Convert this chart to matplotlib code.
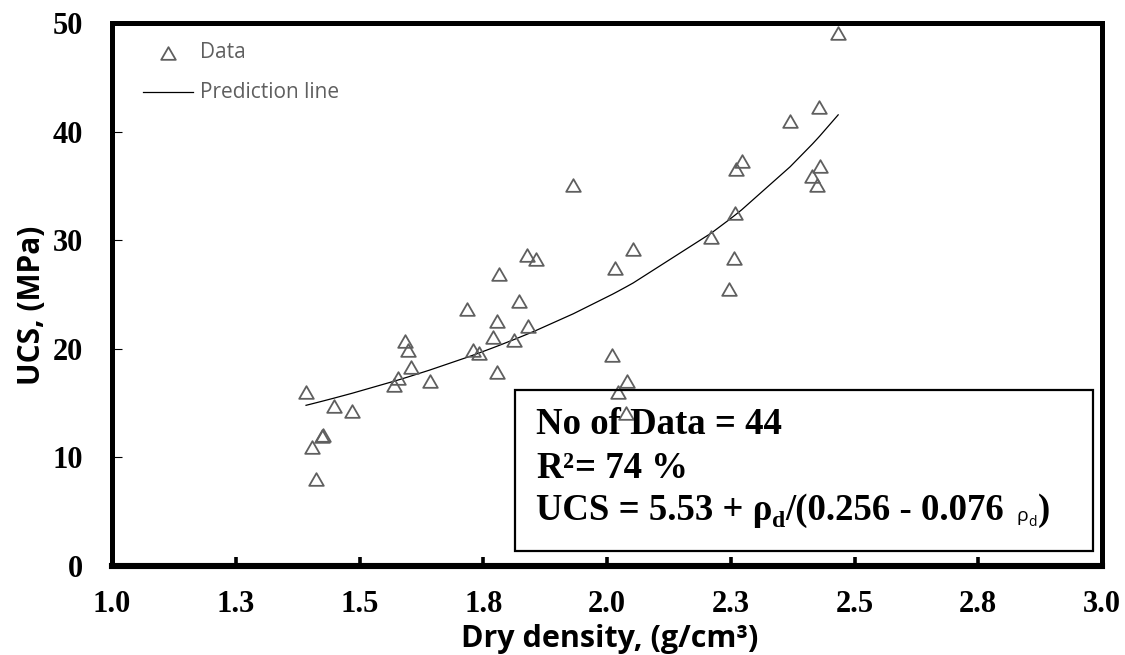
import numpy as np
import matplotlib
matplotlib.use("Agg")
import matplotlib.pyplot as plt
from matplotlib.path import Path

# Measured dry density (g/cm3) and unconfined compressive strength (MPa)
density = [1.392, 1.404, 1.412, 1.424, 1.426, 1.448, 1.485, 1.591, 1.597, 1.604,
           1.570, 1.578, 1.642, 1.718, 1.730, 1.742, 1.769, 1.778, 1.782, 1.778,
           1.813, 1.823, 1.841, 1.838, 1.857, 2.017, 2.053, 2.011, 2.040, 2.022,
           1.932, 2.038, 2.272, 2.261, 2.259, 2.211, 2.257, 2.246, 2.430, 2.415,
           2.425, 2.467, 2.429, 2.370]
ucs = [16.05, 10.98, 8.03, 12.0, 12.1, 14.7, 14.3, 20.76, 19.9, 18.36,
       16.7, 17.3, 17.0, 23.7, 19.86, 19.6, 21.06, 22.6, 26.85, 17.87,
       20.85, 24.4, 22.1, 28.6, 28.3, 27.46, 29.2, 19.4, 17.0, 16.0,
       35.1, 14.1, 37.3, 36.6, 32.5, 30.3, 28.4, 25.5, 36.8, 35.9,
       35.1, 49.1, 42.3, 41.0]

# Fitted model: UCS = a + rho/(b - c*rho)
coef_a, coef_b, coef_c = 5.53, 0.256, 0.076
n_data = 44
r2_pct = 74

x_ticks = [1.0, 1.25, 1.5, 1.75, 2.0, 2.25, 2.5, 2.75, 3.0]
x_ticklabels = ["1.0", "1.3", "1.5", "1.8", "2.0", "2.3", "2.5", "2.8", "3.0"]
y_ticks = [0, 10, 20, 30, 40, 50]

W, H = 1125, 655
fig = plt.figure(figsize=(W / 100, H / 100), dpi=100)
ax = fig.add_axes([112 / W, 1 - 566 / H, 990 / W, 543 / H])
ax.set_xlim(1.0, 3.0)
ax.set_ylim(0, 50)

grey = "#5f5f5f"
serif_b = dict(family="Liberation Serif", weight="bold")
sans_b = dict(family="Open Sans", weight="bold")

# Equilateral open triangle marker
tri = Path([(-1, -0.866), (1, -0.866), (0, 0.866), (-1, -0.866)],
           [Path.MOVETO, Path.LINETO, Path.LINETO, Path.CLOSEPOLY])

ax.plot(density, ucs, linestyle="none", marker=tri, markersize=10.5,
        markerfacecolor="none", markeredgecolor=grey, markeredgewidth=1.3,
        zorder=3)

# Prediction line evaluated at the measured densities
rho = np.sort(np.asarray(density))
pred = coef_a + rho / (coef_b - coef_c * rho)
ax.plot(rho, pred, color="black", linewidth=0.9, zorder=2)

# Spines and ticks
for side in ["left", "right", "top", "bottom"]:
    ax.spines[side].set_linewidth(3.6)
    ax.spines[side].set_capstyle("projecting")
ax.spines["bottom"].set_linewidth(4.4)

ax.set_xticks(x_ticks)
ax.set_xticklabels(x_ticklabels)
ax.set_yticks(y_ticks)
for lab in ax.get_xticklabels() + ax.get_yticklabels():
    lab.set_fontfamily("Liberation Serif")
    lab.set_fontweight("bold")
    lab.set_fontsize(22)
ax.tick_params(axis="x", direction="in", length=6.5, width=2.6, pad=17)
ax.tick_params(axis="y", direction="in", length=7, width=0.8, pad=21)
for t in ax.xaxis.get_major_ticks():
    t.tick1line.set_visible(t.get_loc() not in (1.0, 3.0))
for t in ax.yaxis.get_major_ticks():
    t.tick1line.set_visible(t.get_loc() not in (0, 50))

ax.set_xlabel("Dry density, (g/cm\u00b3)", fontsize=22, **sans_b)
ax.set_ylabel("UCS, (MPa)", fontsize=21.5, **sans_b)
ax.xaxis.set_label_coords(0.503, -0.106)
ax.yaxis.set_label_coords(-0.066, 0.48)

# Legend drawn by hand at the top-left corner
def px2data(px, py):
    return (1.0 + (px - 112) / 495.0, (566 - py) / 10.86)

mx, my = px2data(168, 53)
ax.plot([mx], [my], linestyle="none", marker=tri, markersize=10.5,
        markerfacecolor="none", markeredgecolor=grey, markeredgewidth=1.3,
        clip_on=False)
lx0, ly = px2data(143, 92)
lx1, _ = px2data(193, 92)
ax.plot([lx0, lx1], [ly, ly], color="black", linewidth=0.9)
tx, ty = px2data(200, 53)
ax.text(tx, ty, "Data", color=grey, fontsize=15, family="Open Sans",
        va="center", ha="left")
tx, ty = px2data(200, 92)
ax.text(tx, ty, "Prediction line", color=grey, fontsize=15, family="Open Sans",
        va="center", ha="left")

# Statistics box
box = plt.Rectangle((515 / W, 1 - 551 / H), (1093 - 515) / W, (551 - 390) / H,
                    transform=fig.transFigure, fill=False, edgecolor="black",
                    linewidth=1.6, zorder=4)
fig.add_artist(box)

renderer = fig.canvas.get_renderer()


def text_run(x_px, base_px, pieces):
    """Draw consecutive text pieces left to right, starting at pixel x."""
    x = x_px
    for s, size, font, dy, gap in pieces:
        t = fig.text(x / W, 1 - (base_px + dy) / H, s, fontsize=size,
                     va="baseline", ha="left", zorder=5, **font)
        x = t.get_window_extent(renderer).x1 + gap


box_fs = 26.5
text_run(536, 434, [(f"No of Data = {n_data}", box_fs, serif_b, 0, 0)])
text_run(536, 478, [("R", box_fs, serif_b, 0, 0),
                    ("\u00b2", box_fs, serif_b, 0, 1),
                    (f"= {r2_pct} %", box_fs, serif_b, 0, 0)])
text_run(536, 520, [
    (f"UCS = {coef_a} + \u03c1", box_fs, serif_b, 0, 0),
    ("d", 17, serif_b, 7, 0),
    (f"/({coef_b} - {coef_c:.3f} ", box_fs, serif_b, 0, 3),
    ("\u03c1", 14, dict(family="Open Sans"), 1, 0),
    ("d", 10, dict(family="Open Sans"), 6, 1),
    (")", box_fs, serif_b, 0, 0),
])

fig.savefig("out.png", dpi=100)
